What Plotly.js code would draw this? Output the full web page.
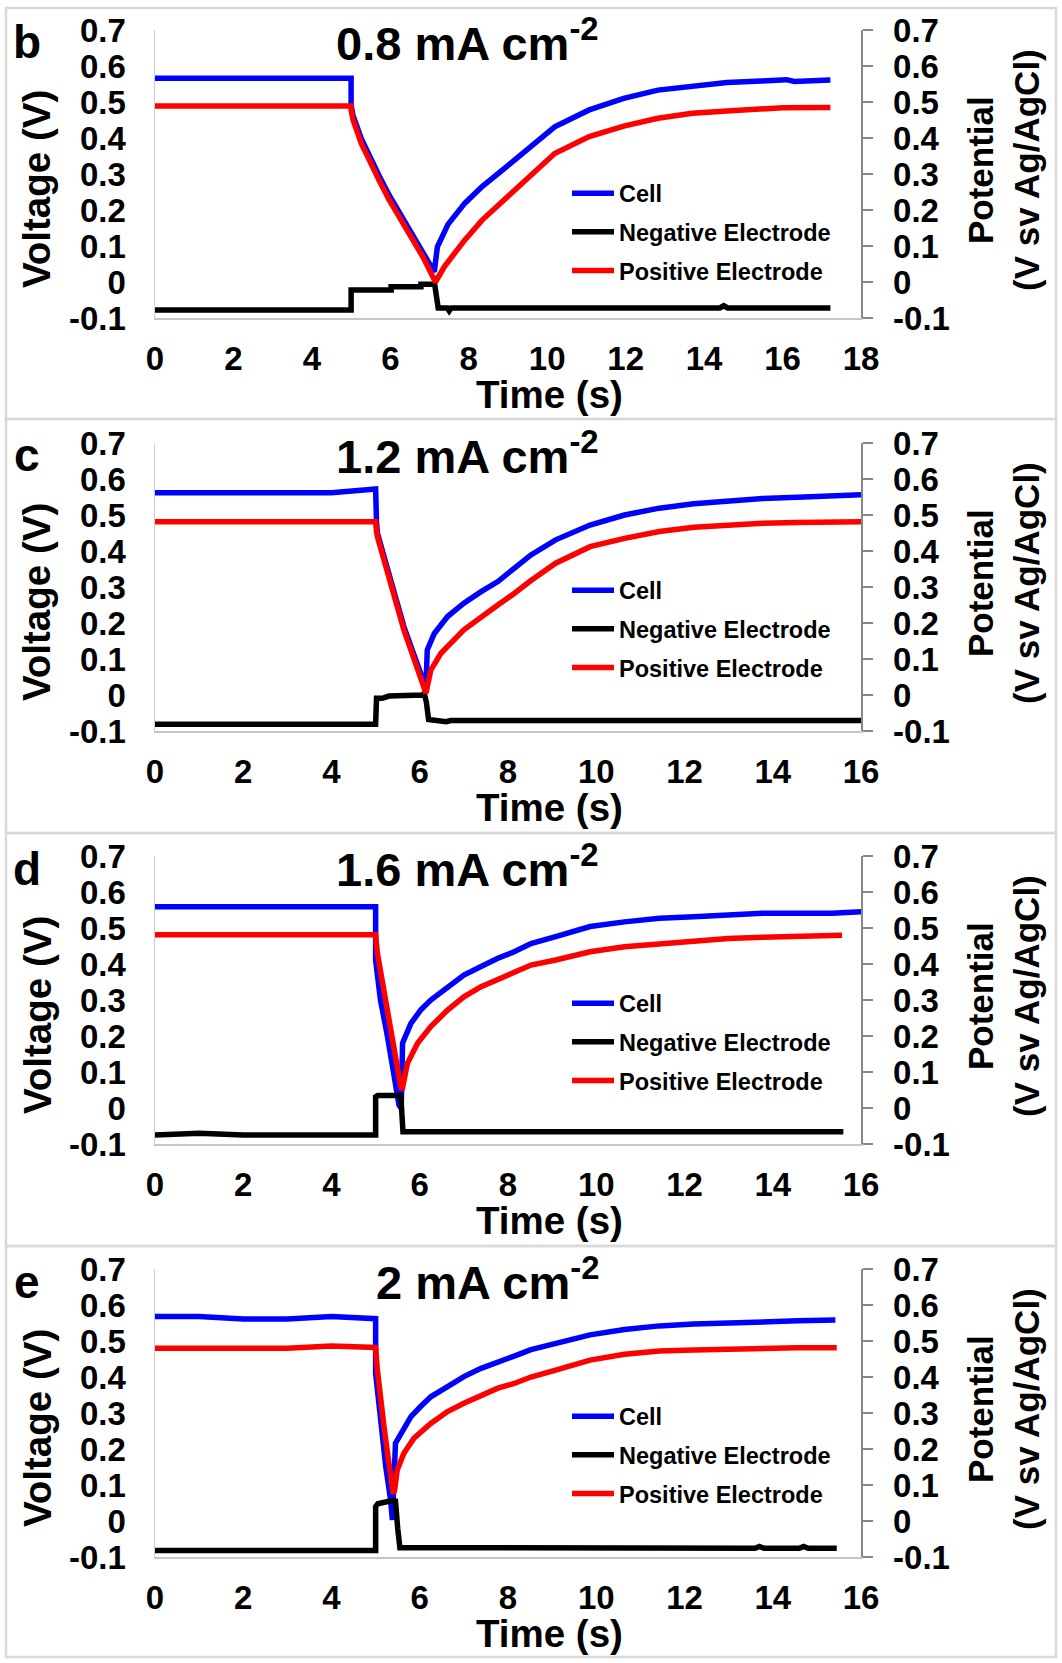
<!DOCTYPE html>
<html>
<head>
<meta charset="utf-8">
<script src="https://cdn.plot.ly/plotly-3.0.1.min.js"></script>
<style>html,body{margin:0;padding:0;background:#fff}#chart{width:1062px;height:1663px}</style>
</head>
<body>
<div id="chart"></div>
<script>
// ---------------- DATA ----------------
const panelLetters = ['b', 'c', 'd', 'e'];
const panelTitles = ['0.8 mA cm<sup>-2</sup>', '1.2 mA cm<sup>-2</sup>', '1.6 mA cm<sup>-2</sup>', '2 mA cm<sup>-2</sup>'];
const seriesNames = ['Cell', 'Negative Electrode', 'Positive Electrode'];
const xMaxes = [18, 16, 16, 16];
const xTickVals18 = [0, 2, 4, 6, 8, 10, 12, 14, 16, 18];
const xTickVals16 = [0, 2, 4, 6, 8, 10, 12, 14, 16];
const yTickVals = [-0.1, 0, 0.1, 0.2, 0.3, 0.4, 0.5, 0.6, 0.7];
const yTickText = ['-0.1', '0', '0.1', '0.2', '0.3', '0.4', '0.5', '0.6', '0.7'];
const leftTitle = 'Voltage (V)';
const rightTitle = 'Potential<br>(V sv Ag/AgCl)';
const xTitle = 'Time (s)';

// Panel b : 0.8 mA cm-2
const cellB_t = [0, 1, 2, 3, 4, 5.0, 5.0, 5.05, 5.26, 5.49, 5.71, 5.97, 6.23, 6.58, 6.85, 7.03, 7.12, 7.2, 7.47, 7.9, 8.34, 9.05, 9.82, 10.19, 11.07, 11.95, 12.82, 13.7, 14.58, 15.46, 16.1, 16.3, 17.22];
const cellB_v = [0.566, 0.566, 0.566, 0.566, 0.566, 0.566, 0.49, 0.462, 0.398, 0.343, 0.296, 0.241, 0.194, 0.130, 0.080, 0.045, 0.028, 0.098, 0.16, 0.219, 0.265, 0.328, 0.400, 0.431, 0.478, 0.510, 0.533, 0.545, 0.554, 0.558, 0.562, 0.557, 0.561];
const negB_t = [0, 5.0, 5.0, 6.02, 6.02, 6.78, 6.78, 7.13, 7.22, 7.45, 7.5, 7.55, 14.4, 14.5, 14.6, 17.22];
const negB_v = [-0.078, -0.078, -0.022, -0.022, -0.013, -0.013, -0.006, -0.006, -0.072, -0.072, -0.08, -0.072, -0.072, -0.066, -0.072, -0.072];
const posB_t = [0, 5.0, 5.0, 5.05, 5.26, 5.49, 5.71, 5.97, 6.23, 6.58, 6.85, 7.15, 7.38, 7.9, 8.34, 9.05, 9.31, 9.82, 10.19, 11.07, 11.95, 12.82, 13.7, 14.58, 15.46, 16.0, 17.22];
const posB_v = [0.489, 0.489, 0.478, 0.450, 0.385, 0.330, 0.283, 0.228, 0.181, 0.117, 0.066, 0.000, 0.043, 0.117, 0.172, 0.243, 0.268, 0.318, 0.357, 0.404, 0.433, 0.455, 0.469, 0.475, 0.480, 0.484, 0.485];

// Panel c : 1.2 mA cm-2
const cellC_t = [0, 1, 2, 3, 4, 4.6, 5.0, 5.02, 5.04, 5.19, 5.34, 5.49, 5.64, 5.80, 5.95, 6.1, 6.14, 6.17, 6.33, 6.63, 7.0, 7.39, 7.77, 8.14, 8.52, 9.08, 9.86, 10.64, 11.43, 12.21, 12.99, 13.77, 14.56, 15.34, 16.0];
const cellC_v = [0.562, 0.562, 0.562, 0.562, 0.562, 0.568, 0.572, 0.48, 0.45, 0.385, 0.32, 0.255, 0.19, 0.135, 0.08, 0.03, 0.02, 0.125, 0.171, 0.218, 0.255, 0.287, 0.315, 0.352, 0.389, 0.431, 0.472, 0.500, 0.519, 0.531, 0.540, 0.546, 0.549, 0.553, 0.556];
const negC_t = [0, 5.0, 5.02, 5.15, 5.3, 6.06, 6.1, 6.15, 6.2, 6.5, 6.6, 6.7, 16.0];
const negC_v = [-0.081, -0.081, -0.009, -0.009, -0.003, 0.0, 0.005, -0.02, -0.068, -0.071, -0.074, -0.071, -0.071];
const posC_t = [0, 5.0, 5.02, 5.04, 5.19, 5.34, 5.49, 5.64, 5.80, 5.95, 6.14, 6.25, 6.48, 7.0, 7.39, 7.77, 8.14, 8.52, 9.08, 9.86, 10.64, 11.43, 12.21, 12.99, 13.77, 14.56, 15.34, 16.0];
const posC_v = [0.481, 0.481, 0.455, 0.440, 0.375, 0.310, 0.245, 0.181, 0.125, 0.069, 0.005, 0.069, 0.116, 0.181, 0.218, 0.250, 0.282, 0.318, 0.366, 0.412, 0.435, 0.454, 0.466, 0.472, 0.477, 0.479, 0.481, 0.481];

// Panel d : 1.6 mA cm-2
const cellD_t = [0, 1, 2, 3, 4, 5.0, 5.0, 5.11, 5.27, 5.42, 5.53, 5.58, 5.61, 5.80, 6.02, 6.25, 6.63, 7.0, 7.39, 7.77, 8.14, 8.52, 9.08, 9.86, 10.64, 11.43, 12.21, 12.99, 13.77, 14.56, 15.34, 16.0];
const cellD_v = [0.559, 0.559, 0.559, 0.559, 0.559, 0.559, 0.411, 0.300, 0.198, 0.096, 0.008, 0.0, 0.18, 0.235, 0.272, 0.300, 0.337, 0.369, 0.393, 0.416, 0.434, 0.457, 0.476, 0.504, 0.517, 0.527, 0.531, 0.536, 0.541, 0.541, 0.541, 0.545];
const negD_t = [0, 1, 2, 5.0, 5.0, 5.05, 5.57, 5.62, 5.66, 15.6];
const negD_v = [-0.075, -0.070, -0.075, -0.075, 0.031, 0.035, 0.035, -0.066, -0.066, -0.066];
const posD_t = [0, 5.0, 5.04, 5.19, 5.34, 5.45, 5.57, 5.6, 5.72, 5.95, 6.25, 6.63, 7.0, 7.39, 7.77, 8.14, 8.52, 9.08, 9.86, 10.64, 11.43, 12.21, 12.99, 13.77, 14.56, 15.57];
const posD_v = [0.481, 0.481, 0.430, 0.319, 0.226, 0.143, 0.059, 0.05, 0.124, 0.180, 0.226, 0.272, 0.309, 0.337, 0.356, 0.374, 0.397, 0.411, 0.434, 0.448, 0.457, 0.465, 0.471, 0.474, 0.478, 0.480];

// Panel e : 2 mA cm-2
const cellE_t = [0, 1, 2, 3, 4, 5.0, 5.0, 5.11, 5.23, 5.34, 5.38, 5.45, 5.57, 5.80, 6.02, 6.25, 6.63, 7.0, 7.39, 7.77, 8.14, 8.52, 9.08, 9.86, 10.64, 11.43, 12.21, 12.99, 13.77, 14.56, 15.42];
const cellE_v = [0.568, 0.568, 0.561, 0.561, 0.568, 0.562, 0.41, 0.281, 0.151, 0.058, 0.003, 0.216, 0.244, 0.290, 0.318, 0.345, 0.373, 0.401, 0.424, 0.443, 0.458, 0.476, 0.494, 0.517, 0.532, 0.542, 0.547, 0.551, 0.554, 0.556, 0.558];
const negE_t = [0, 5.0, 5.0, 5.05, 5.3, 5.45, 5.5, 5.55, 13.6, 13.7, 13.8, 14.6, 14.7, 14.8, 15.45];
const negE_v = [-0.082, -0.082, 0.04, 0.048, 0.055, 0.055, -0.02, -0.074, -0.076, -0.071, -0.076, -0.076, -0.071, -0.076, -0.076];
const posE_t = [0, 1, 2, 3, 4, 5.0, 5.04, 5.11, 5.19, 5.27, 5.34, 5.40, 5.43, 5.49, 5.64, 5.87, 6.25, 6.63, 7.0, 7.39, 7.77, 8.14, 8.52, 9.08, 9.86, 10.64, 11.43, 12.21, 12.99, 13.77, 14.56, 15.45];
const posE_v = [0.480, 0.480, 0.480, 0.480, 0.486, 0.482, 0.419, 0.336, 0.262, 0.188, 0.123, 0.075, 0.086, 0.142, 0.188, 0.230, 0.271, 0.304, 0.327, 0.350, 0.369, 0.382, 0.400, 0.419, 0.447, 0.463, 0.472, 0.475, 0.478, 0.480, 0.481, 0.481];

const cellSeries = [[cellB_t, cellB_v], [cellC_t, cellC_v], [cellD_t, cellD_v], [cellE_t, cellE_v]];
const negSeries = [[negB_t, negB_v], [negC_t, negC_v], [negD_t, negD_v], [negE_t, negE_v]];
const posSeries = [[posB_t, posB_v], [posC_t, posC_v], [posD_t, posD_v], [posE_t, posE_v]];

// ---------------- LAYOUT ----------------
const W = 1062, H = 1663;
const PLOT_L = 155, PLOT_R = 861, TOP0 = 30, STEP = 413, PLOT_H = 288;
const px = v => v / W;
const py = v => 1 - v / H;
const FONT = 'Liberation Sans, Arial, Helvetica, sans-serif';
const colors = ['#0000ff', '#000000', '#ff0000'];
const LW = 5.5;
const legendTopsRel = [141.5, 125.5, 125.5, 125.5];
const borderYs = [8, 419, 833, 1246, 1657];

const traces = [];
const layout = {
  width: W, height: H,
  margin: {l: 0, r: 0, t: 0, b: 0},
  paper_bgcolor: '#ffffff', plot_bgcolor: '#ffffff',
  font: {family: FONT, color: '#000', weight: 'bold'},
  annotations: [], shapes: []
};

for (let k = 0; k < 4; k++) {
  const T = TOP0 + STEP * k;
  const B = T + PLOT_H;
  const xa = 'x' + (k + 1);
  const yl = 'y' + (2 * k + 1);
  const yr = 'y' + (2 * k + 2);
  const lgName = k === 0 ? 'legend' : 'legend' + (k + 1);
  const series = [cellSeries[k], negSeries[k], posSeries[k]];
  series.forEach((s, i) => {
    traces.push({
      type: 'scatter', mode: 'lines',
      x: s[0], y: s[1],
      xaxis: xa, yaxis: i === 0 ? yl : yr,
      name: seriesNames[i],
      line: {color: colors[i], width: LW, shape: 'linear'},
      legend: lgName,
      legendgroup: 'g' + k + '_' + i,
      hoverinfo: 'skip'
    });
  });

  const xKey = k === 0 ? 'xaxis' : 'xaxis' + (k + 1);
  const ylKey = 'yaxis' + (2 * k + 1 === 1 ? '' : (2 * k + 1));
  const yrKey = 'yaxis' + (2 * k + 2);
  const tickFont = {family: FONT, size: 33, color: '#000', weight: 'bold'};
  const xTicks = xMaxes[k] === 18 ? xTickVals18 : xTickVals16;

  layout[xKey] = {
    domain: [px(PLOT_L), px(PLOT_R)],
    anchor: yl,
    range: [0, xMaxes[k]],
    tickmode: 'array', tickvals: xTicks, ticktext: xTicks.map(String),
    showline: true, linecolor: '#c6c6c6', linewidth: 1.5,
    ticks: '', showgrid: false, zeroline: false,
    tickfont: tickFont, ticklabelstandoff: 11
  };
  layout[ylKey] = {
    domain: [py(B), py(T)],
    anchor: xa,
    range: [-0.1, 0.7],
    tickmode: 'array', tickvals: yTickVals, ticktext: yTickText,
    showline: true, linecolor: '#cfcfcf', linewidth: 1.5,
    ticks: '', showgrid: false, zeroline: false,
    tickfont: tickFont, ticklabelstandoff: 21
  };
  layout[yrKey] = {
    domain: [py(B), py(T)],
    anchor: xa, overlaying: yl, side: 'right',
    range: [-0.1, 0.7],
    tickmode: 'array', tickvals: yTickVals, ticktext: yTickText,
    showline: true, linecolor: '#888888', linewidth: 1.5,
    ticks: 'outside', ticklen: 10, tickwidth: 1.5, tickcolor: '#888888',
    showgrid: false, zeroline: false,
    tickfont: tickFont, ticklabelstandoff: 14
  };

  layout[lgName] = {
    x: px(567), xanchor: 'left',
    y: py(T + legendTopsRel[k]), yanchor: 'top',
    bgcolor: 'rgba(0,0,0,0)', borderwidth: 0,
    traceorder: 'grouped', tracegroupgap: 5, itemwidth: 42,
    font: {family: FONT, size: 23.5, color: '#000', weight: 'bold'}
  };

  layout.annotations.push({
    xref: 'paper', yref: 'paper', x: px(27), y: py(T + 12.5),
    xanchor: 'center', yanchor: 'middle', showarrow: false,
    text: panelLetters[k],
    font: {family: FONT, size: 46, color: '#000', weight: 'bold'}
  });
  layout.annotations.push({
    xref: 'paper', yref: 'paper', x: px(601), y: py(T + 42),
    xanchor: 'right', yanchor: 'bottom', showarrow: false,
    text: panelTitles[k],
    font: {family: FONT, size: 47, color: '#000', weight: 'bold'}
  });
  layout.annotations.push({
    xref: 'paper', yref: 'paper', x: px(37), y: py(T + 159),
    xanchor: 'center', yanchor: 'middle', showarrow: false, textangle: -90,
    text: leftTitle,
    font: {family: FONT, size: 38.5, color: '#000', weight: 'bold'}
  });
  layout.annotations.push({
    xref: 'paper', yref: 'paper', x: px(1003), y: py(T + 140),
    xanchor: 'center', yanchor: 'middle', showarrow: false, textangle: -90,
    text: rightTitle,
    font: {family: FONT, size: 35, color: '#000', weight: 'bold'}
  });
  layout.annotations.push({
    xref: 'paper', yref: 'paper', x: px(549.5), y: py(T + 364.5),
    xanchor: 'center', yanchor: 'middle', showarrow: false,
    text: xTitle,
    font: {family: FONT, size: 38.5, color: '#000', weight: 'bold'}
  });
  layout.shapes.push({
    type: 'rect', xref: 'paper', yref: 'paper', layer: 'below',
    x0: px(6), x1: px(1056), y0: py(borderYs[k + 1]), y1: py(borderYs[k]),
    line: {color: '#d9d9d9', width: 2.5}, fillcolor: 'rgba(0,0,0,0)'
  });
}

Plotly.newPlot('chart', traces, layout, {staticPlot: true, displayModeBar: false});
</script>
</body>
</html>
